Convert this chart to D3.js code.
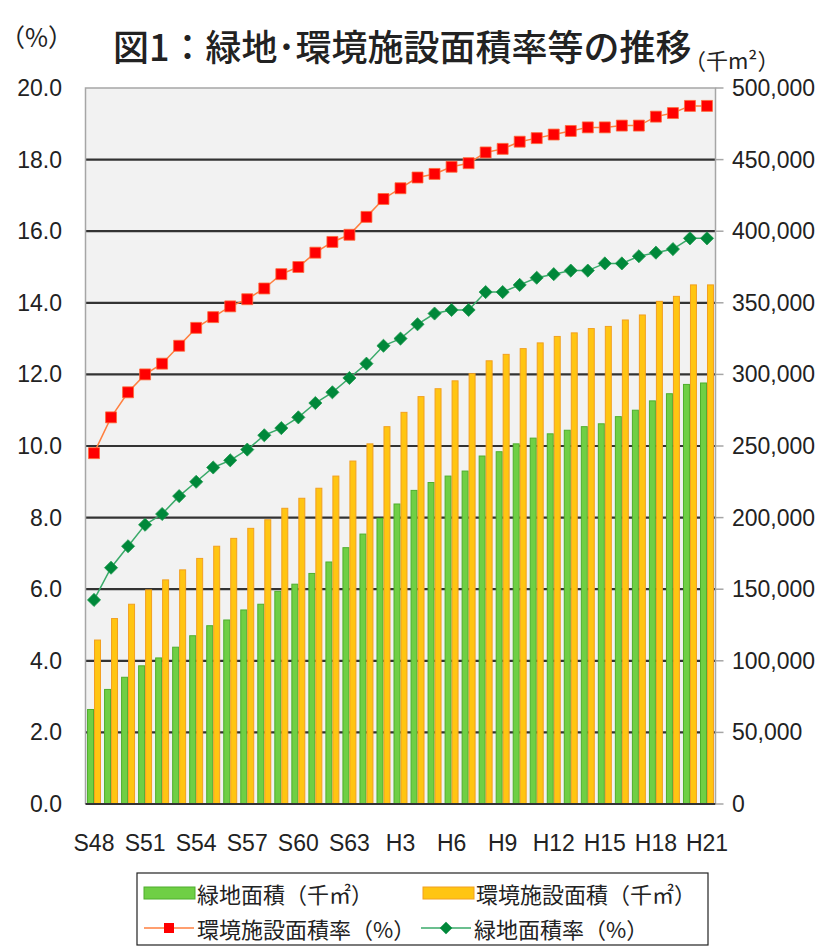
<!DOCTYPE html>
<html>
<head>
<meta charset="utf-8">
<script src="https://cdn.jsdelivr.net/npm/d3@7"></script>
<style>
  html, body { margin: 0; padding: 0; background: #fff; }
  text { font-family: "Liberation Sans", Arial, sans-serif; fill: #222; }
  .jp { font-family: "Noto Sans CJK JP", sans-serif; }
</style>
</head>
<body>
<svg id="chart" width="823" height="946"></svg>
<script>
// Fiscal years (Showa 48 – Heisei 21)
const years = [
  "S48","S49","S50","S51","S52","S53","S54","S55","S56","S57","S58","S59","S60","S61","S62","S63",
  "H1","H2","H3","H4","H5","H6","H7","H8","H9","H10","H11","H12","H13","H14","H15","H16","H17","H18","H19","H20","H21"
];
// 緑地面積 (千㎡)
const greenArea = [
  66000, 80000, 88500, 96500, 102000, 109500, 117500, 124500, 128500, 135500, 139500, 148500,
  153500, 161000, 169000, 179000, 188500, 199500, 209500, 219000, 224500, 229000, 232500, 243000,
  246000, 251500, 255500, 258500, 261000, 263500, 265500, 270500, 275000, 281500, 286500, 293000, 294000
];
// 環境施設面積 (千㎡)
const facilityArea = [
  114500, 129500, 139500, 149500, 156500, 163500, 171500, 180000, 185500, 192500, 198500, 206500,
  213500, 220500, 229000, 239500, 251500, 263500, 273500, 284500, 290000, 295500, 300500, 309500,
  314000, 318000, 322000, 326500, 329000, 332000, 333500, 338000, 341500, 351000, 354500, 362500, 362500
];
// 環境施設面積率 (%)
const facilityRate = [
  9.8, 10.8, 11.5, 12.0, 12.3, 12.8, 13.3, 13.6, 13.9, 14.1, 14.4, 14.8, 15.0, 15.4, 15.7, 15.9,
  16.4, 16.9, 17.2, 17.5, 17.6, 17.8, 17.9, 18.2, 18.3, 18.5, 18.6, 18.7, 18.8, 18.9, 18.9, 18.95,
  18.95, 19.2, 19.3, 19.5, 19.5
];
// 緑地面積率 (%)
const greenRate = [
  5.7, 6.6, 7.2, 7.8, 8.1, 8.6, 9.0, 9.4, 9.6, 9.9, 10.3, 10.5, 10.8, 11.2, 11.5, 11.9,
  12.3, 12.8, 13.0, 13.4, 13.7, 13.8, 13.8, 14.3, 14.3, 14.5, 14.7, 14.8, 14.9, 14.9, 15.1, 15.1,
  15.3, 15.4, 15.5, 15.8, 15.8
];
const leftTicks = [0, 2, 4, 6, 8, 10, 12, 14, 16, 18, 20];
const rightTicks = [0, 50000, 100000, 150000, 200000, 250000, 300000, 350000, 400000, 450000, 500000];
const xLabels = ["S48","S51","S54","S57","S60","S63","H3","H6","H9","H12","H15","H18","H21"];

const svg = d3.select("#chart");
const plot = { left: 85.5, right: 715.5, top: 88, bottom: 804 };

const x = d3.scaleBand().domain(years).range([plot.left, plot.right])
  .paddingInner(0.18).paddingOuter(0.09);
const xSub = d3.scaleBand().domain(["green", "facility"]).range([0, x.bandwidth()]);
const yPct = d3.scaleLinear().domain([0, 20]).range([plot.bottom, plot.top]);
const yArea = d3.scaleLinear().domain([0, 500000]).range([plot.bottom, plot.top]);

// plot background
svg.append("rect")
  .attr("x", plot.left).attr("y", plot.top)
  .attr("width", plot.right - plot.left).attr("height", plot.bottom - plot.top)
  .attr("fill", "#f2f2f2");

// horizontal gridlines
svg.append("g").selectAll("line")
  .data(leftTicks.filter(d => d > 0 && d < 20))
  .join("line")
  .attr("x1", plot.left).attr("x2", plot.right)
  .attr("y1", d => yPct(d)).attr("y2", d => yPct(d))
  .attr("stroke", "#333").attr("stroke-width", 2.2);

// frame (top, left, right)
svg.append("path")
  .attr("d", `M${plot.left},${plot.bottom}V${plot.top}H${plot.right}V${plot.bottom}`)
  .attr("fill", "none").attr("stroke", "#a6a6a6").attr("stroke-width", 1.5);

// bars
const groups = svg.append("g").selectAll("g")
  .data(years)
  .join("g")
  .attr("transform", d => `translate(${x(d)},0)`);

groups.append("rect")
  .attr("x", xSub("green") + 0.5)
  .attr("width", xSub.bandwidth() - 1)
  .attr("y", (d, i) => yArea(greenArea[i]))
  .attr("height", (d, i) => yArea(0) - yArea(greenArea[i]))
  .attr("fill", "#6fcf45").attr("stroke", "#4fae2c").attr("stroke-width", 1);

groups.append("rect")
  .attr("x", xSub("facility") + 0.5)
  .attr("width", xSub.bandwidth() - 1)
  .attr("y", (d, i) => yArea(facilityArea[i]))
  .attr("height", (d, i) => yArea(0) - yArea(facilityArea[i]))
  .attr("fill", "#ffc512").attr("stroke", "#f2a020").attr("stroke-width", 1);

// base line
svg.append("line")
  .attr("x1", plot.left).attr("x2", plot.right)
  .attr("y1", yPct(0)).attr("y2", yPct(0))
  .attr("stroke", "#333").attr("stroke-width", 2.2);

// right axis tick marks
svg.append("g").selectAll("line")
  .data(rightTicks)
  .join("line")
  .attr("x1", plot.right).attr("x2", plot.right + 8)
  .attr("y1", d => yArea(d)).attr("y2", d => yArea(d))
  .attr("stroke", "#a6a6a6").attr("stroke-width", 1.5);

const cx = d => x(d) + x.bandwidth() / 2;

// 緑地面積率 line
svg.append("path")
  .datum(greenRate)
  .attr("d", d3.line().x((d, i) => cx(years[i])).y(d => yPct(d)))
  .attr("fill", "none").attr("stroke", "#3aaa6a").attr("stroke-width", 1.5);
svg.append("g").selectAll("path")
  .data(greenRate)
  .join("path")
  .attr("d", d3.symbol(d3.symbolDiamond2, 110))
  .attr("transform", (d, i) => `translate(${cx(years[i])},${yPct(d)})`)
  .attr("fill", "#00883a").attr("stroke", "#1f9a4f").attr("stroke-width", 0.8);

// 環境施設面積率 line
svg.append("path")
  .datum(facilityRate)
  .attr("d", d3.line().x((d, i) => cx(years[i])).y(d => yPct(d)))
  .attr("fill", "none").attr("stroke", "#ff7f3f").attr("stroke-width", 1.5);
svg.append("g").selectAll("path")
  .data(facilityRate)
  .join("path")
  .attr("d", d3.symbol(d3.symbolSquare, 120))
  .attr("transform", (d, i) => `translate(${cx(years[i])},${yPct(d)})`)
  .attr("fill", "#ff0000").attr("stroke", "#ff6a3a").attr("stroke-width", 0.8);

// left axis labels
svg.append("g").selectAll("text")
  .data(leftTicks)
  .join("text")
  .attr("x", 62).attr("y", d => yPct(d))
  .attr("dy", "0.35em").attr("text-anchor", "end")
  .attr("font-size", 23)
  .text(d3.format(".1f"));

// right axis labels
svg.append("g").selectAll("text")
  .data(rightTicks)
  .join("text")
  .attr("x", 732).attr("y", d => yArea(d))
  .attr("dy", "0.35em").attr("text-anchor", "start")
  .attr("font-size", 23)
  .text(d3.format(","));

// category labels
svg.append("g").selectAll("text")
  .data(xLabels)
  .join("text")
  .attr("x", d => cx(d)).attr("y", 843)
  .attr("dy", "0.35em").attr("text-anchor", "middle")
  .attr("font-size", 23)
  .text(d => d);

// titles
svg.append("text").attr("class", "jp")
  .attr("x", 113).attr("y", 45).attr("dominant-baseline", "central")
  .attr("font-size", 36).attr("font-weight", 500)
  .text("図1：緑地･環境施設面積率等の推移");
svg.append("text").attr("class", "jp")
  .attr("x", 0).attr("y", 36).attr("dominant-baseline", "central")
  .attr("font-size", 25)
  .text("（%）");
svg.append("text").attr("class", "jp")
  .attr("x", 684).attr("y", 59).attr("dominant-baseline", "central")
  .attr("font-size", 22)
  .text("（千m²）");

// legend
const lg = svg.append("g");
lg.append("rect")
  .attr("x", 137).attr("y", 873).attr("width", 571).attr("height", 72)
  .attr("fill", "#fff").attr("stroke", "#222").attr("stroke-width", 1.2);

const legendItems = [
  { type: "bar", label: "緑地面積（千㎡）", fill: "#6fcf45", stroke: "#4fae2c", x: 144, y: 893 },
  { type: "bar", label: "環境施設面積（千㎡）", fill: "#ffc512", stroke: "#f2a020", x: 423, y: 893 },
  { type: "line", label: "環境施設面積率（%）", line: "#ff7f3f", mark: d3.symbolSquare, fill: "#ff0000", x: 144, y: 928 },
  { type: "line", label: "緑地面積率（%）", line: "#3aaa6a", mark: d3.symbolDiamond2, fill: "#00883a", x: 421, y: 928 }
];
legendItems.forEach(it => {
  const g = lg.append("g");
  if (it.type === "bar") {
    g.append("rect").attr("x", it.x).attr("y", it.y - 6).attr("width", 51).attr("height", 12)
      .attr("fill", it.fill).attr("stroke", it.stroke).attr("stroke-width", 1);
  } else {
    g.append("line").attr("x1", it.x).attr("x2", it.x + 50).attr("y1", it.y).attr("y2", it.y)
      .attr("stroke", it.line).attr("stroke-width", 1.5);
    g.append("path").attr("d", d3.symbol(it.mark, 100))
      .attr("transform", `translate(${it.x + 25},${it.y})`).attr("fill", it.fill);
  }
  g.append("text").attr("class", "jp")
    .attr("x", it.x + 53).attr("y", it.y).attr("dominant-baseline", "central")
    .attr("font-size", 22)
    .text(it.label);
});
</script>
</body>
</html>
